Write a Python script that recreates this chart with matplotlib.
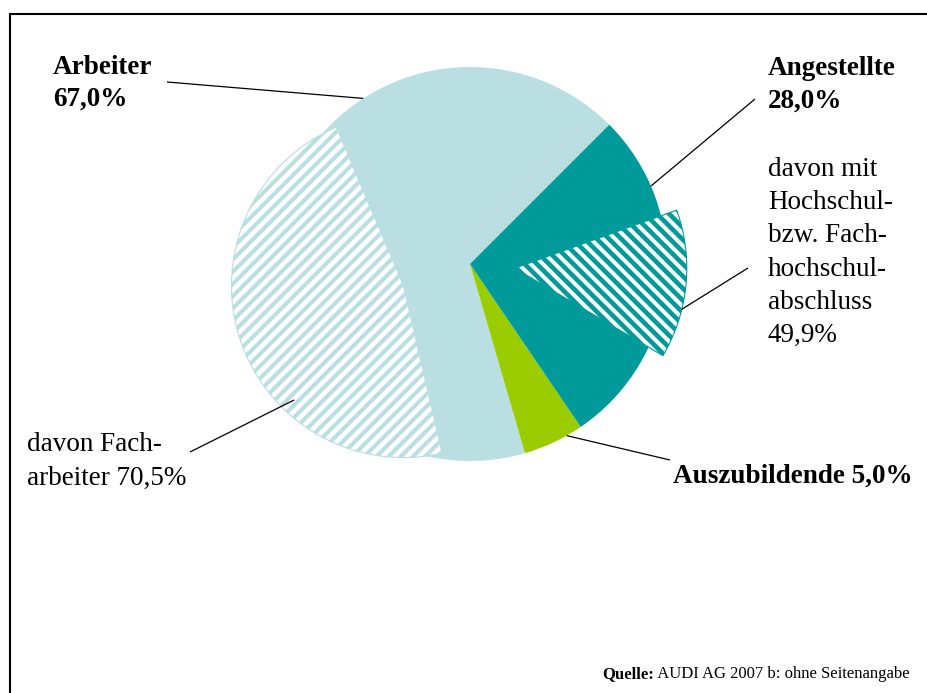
import numpy as np
import matplotlib
matplotlib.use("Agg")
import matplotlib.pyplot as plt
from matplotlib.patches import Wedge
from matplotlib.collections import LineCollection

# Belegschaftsstruktur (Anteile in %)
categories = ["Arbeiter", "Angestellte", "Auszubildende"]
shares = [67.0, 28.0, 5.0]

# Anteile innerhalb einer Gruppe (in % der jeweiligen Gruppe)
sub_parents = ["Arbeiter", "Angestellte"]
sub_shares = [70.5, 49.9]

main_label_fmt = ["Arbeiter\n{}", "Angestellte\n{}", "Auszubildende {}"]
sub_label_fmt = ["davon Fach-\narbeiter {}",
                 "davon mit\nHochschul-\nbzw. Fach-\nhochschul-\nabschluss\n{}"]
source_bold = "Quelle:"
source_rest = " AUDI AG 2007 b: ohne Seitenangabe"

W, H = 928, 693
LIGHT = "#B9DFE2"
TEAL = "#009A9A"
GREEN = "#9ACC00"
colors = {"Arbeiter": LIGHT, "Angestellte": TEAL, "Auszubildende": GREEN}
SERIF = "Liberation Serif"


def fmt_pct(v):
    return f"{v:.1f}".replace(".", ",") + "%"


def py(y):
    # pixel row (from top) -> data y (from bottom)
    return H - y


fig = plt.figure(figsize=(W / 100, H / 100), dpi=100)
ax = fig.add_axes([0, 0, 1, 1])

# main pie
cx, cy, R = 470, py(264), 197
order = ["Arbeiter", "Auszubildende", "Angestellte"]
vals = [shares[categories.index(c)] for c in order]
wedges, _ = ax.pie(vals, colors=[colors[c] for c in order], startangle=45,
                   counterclock=True, center=(cx, cy), radius=R,
                   wedgeprops=dict(linewidth=0))
wmap = dict(zip(order, wedges))
ax.set_xlim(0, W)
ax.set_ylim(0, H)
ax.set_aspect("auto")
ax.axis("off")


def stripes(patch, c, color, ang, period, lw_px):
    d = np.array([np.cos(np.radians(ang)), np.sin(np.radians(ang))])
    n = np.array([-d[1], d[0]])
    L = 420
    segs = []
    for t in np.arange(-L, L, period):
        p = np.array(c) + t * n
        segs.append([p - L * d, p + L * d])
    lc = LineCollection(segs, colors=color, linewidths=lw_px * 72 / 100,
                        capstyle="butt", zorder=patch.get_zorder() + 0.1)
    ax.add_collection(lc)
    lc.set_clip_path(patch)


# exploded, striped sub-wedges
sub_style = {
    "Arbeiter": dict(end=283.0, offset=70, color=LIGHT, ang=45, lw=4.0),
    "Angestellte": dict(end=None, offset=45, color=TEAL, ang=-45, lw=4.6),
}
sub_r = 0.873 * R
sub_geom = {}
for parent, frac in zip(sub_parents, sub_shares):
    pw = wmap[parent]
    span = (pw.theta2 - pw.theta1) * frac / 100.0
    st = sub_style[parent]
    if st["end"] is None:
        mid = 0.5 * (pw.theta1 + pw.theta2)
        t1, t2 = mid - span / 2, mid + span / 2
    else:
        t2 = st["end"]
        t1 = t2 - span
        mid = 0.5 * (t1 + t2)
    sc = (cx + st["offset"] * np.cos(np.radians(mid)),
          cy + st["offset"] * np.sin(np.radians(mid)))
    wd = Wedge(sc, sub_r, t1, t2, facecolor="white", edgecolor=st["color"],
               linewidth=0.8, zorder=3)
    ax.add_patch(wd)
    stripes(wd, sc, st["color"], st["ang"], period=8.6, lw_px=st["lw"])
    sub_geom[parent] = sc


def on_circle(c, r, ang):
    return (c[0] + r * np.cos(np.radians(ang)), c[1] + r * np.sin(np.radians(ang)))


def leader(p_from, p_to):
    ax.plot([p_from[0], p_to[0]], [p_from[1], p_to[1]], color="black",
            lw=0.9, zorder=5, solid_capstyle="butt")


def block(x, y_base, text, step, bold):
    for i, line in enumerate(text.split("\n")):
        ax.text(x, py(y_base + i * step), line, fontsize=19.5, family=SERIF,
                fontweight="bold" if bold else "normal", ha="left",
                va="baseline", zorder=6)


# main labels
lab = {c: f.format(fmt_pct(v)) for c, f, v in zip(categories, main_label_fmt, shares)}
block(53, 74, lab["Arbeiter"], 32, True)
block(768, 75, lab["Angestellte"], 33, True)
block(673, 483, lab["Auszubildende"], 33, True)

# sub labels
slab = {p: f.format(fmt_pct(v)) for p, f, v in zip(sub_parents, sub_label_fmt, sub_shares)}
block(27, 451, slab["Arbeiter"], 34, False)
block(768, 176, slab["Angestellte"], 33.2, False)

# leader lines
leader((167, py(82)), on_circle((cx, cy), R, 122.8))
leader((755, py(99)), on_circle((cx, cy), R, 23.3))
leader((670, py(460)), on_circle((cx, cy), R, -60.6))
leader((748, py(268)), on_circle(sub_geom["Angestellte"], sub_r, -13.8))
leader((190, py(452)), on_circle(sub_geom["Arbeiter"], 0.92 * sub_r, 226.3))

# frame (left and top edge visible)
ax.plot([10, 10, W + 10], [py(H + 10), py(14), py(14)], color="black",
        lw=1.5, clip_on=False, zorder=7, solid_joinstyle="miter")

# source note
t1 = ax.text(602, py(678), source_bold, fontsize=12, family=SERIF,
             fontweight="bold", ha="left", va="baseline", zorder=6)
ax.annotate(source_rest, xy=(1, 0), xycoords=t1, fontsize=12, family=SERIF,
            ha="left", va="bottom", zorder=6)

fig.savefig("out.png", dpi=100)
